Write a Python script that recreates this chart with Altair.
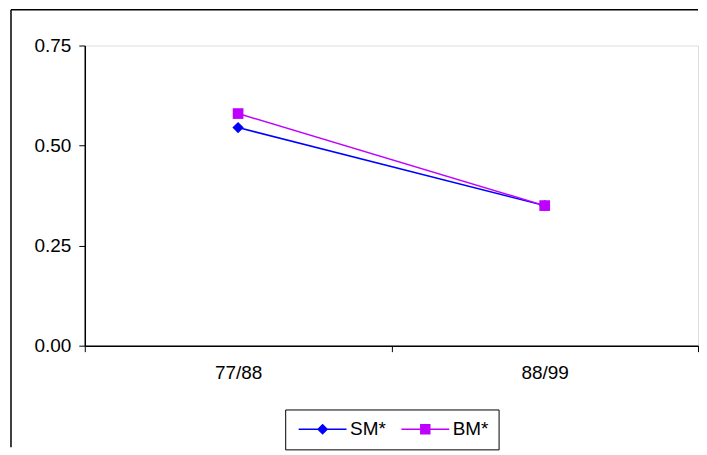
import altair as alt
import pandas as pd

periods = ["77/88", "88/99"]
series_names = ["SM*", "BM*"]
sm_values = [0.545, 0.35]
bm_values = [0.58, 0.35]

colors = ["#0000FF", "#BF00FF"]

rows = []
for p, v in zip(periods, sm_values):
    rows.append({"period": p, "series": "SM*", "value": v})
for p, v in zip(periods, bm_values):
    rows.append({"period": p, "series": "BM*", "value": v})
df = pd.DataFrame(rows)

W, H = 615, 301
FONT = "Liberation Sans"

x_enc = alt.X(
    "period:N",
    sort=periods,
    scale=alt.Scale(type="band", paddingInner=0, paddingOuter=0),
    axis=alt.Axis(
        title=None, labelAngle=0, tickBand="extent", tickSize=6,
        labelPadding=12, labelFontSize=19, labelFont=FONT, labelColor="black",
        tickColor="black", domainColor="black", domainWidth=1.5, grid=False,
    ),
)
y_enc = alt.Y(
    "value:Q",
    scale=alt.Scale(domain=[0, 0.75], nice=False, zero=True),
    axis=alt.Axis(
        title=None, values=[0, 0.25, 0.5, 0.75], format=".2f", tickSize=6,
        labelPadding=8, labelFontSize=19, labelFont=FONT, labelColor="black",
        tickColor="black", domainColor="black", domainWidth=1.5, grid=False,
    ),
)

sm_path = "M-1.2,0L8.4,0M3.6,-0.9L4.5,0L3.6,0.9L2.7,0Z"
bm_path = "M-1.2,0L8.4,0M2.7,-0.9L4.5,-0.9L4.5,0.9L2.7,0.9Z"

legend = alt.Legend(
    title=None, orient="none", legendX=201, legendY=365, direction="horizontal",
    padding=10, strokeColor="black", fillColor="white",
    labelFontSize=19, labelFont=FONT, labelColor="black", labelOffset=36,
    columnPadding=12, symbolSize=100, symbolStrokeWidth=1.5, symbolOpacity=1,
)

color_scale = alt.Scale(domain=series_names, range=colors)
color_enc = alt.Color("series:N", scale=color_scale, legend=legend)

base = alt.Chart(df).encode(x=x_enc, y=y_enc, color=color_enc)

lines = base.mark_line(strokeWidth=1.5)
sm_points = base.transform_filter(alt.datum.series == "SM*").mark_point(
    filled=True, opacity=1, size=130, shape="diamond"
)
bm_points = base.transform_filter(alt.datum.series == "BM*").mark_point(
    filled=True, opacity=1, size=115, shape="square"
)

legend_layer = alt.Chart(df).transform_filter("false").mark_point(
    filled=True, opacity=1, strokeWidth=1.5
).encode(
    x=alt.X("period:N", sort=periods),
    y=alt.Y("value:Q"),
    color=color_enc,
    stroke=alt.Stroke("series:N", scale=color_scale, legend=legend),
    shape=alt.Shape("series:N", scale=alt.Scale(domain=series_names, range=[sm_path, bm_path]), legend=legend),
)

frame_df = pd.DataFrame({"k": [0]})
top_line = alt.Chart(frame_df).mark_rule(
    color="black", strokeWidth=1.5, clip=False
).encode(x=alt.value(-74), x2=alt.value(W), y=alt.value(-36))
left_line = alt.Chart(frame_df).mark_rule(
    color="black", strokeWidth=1.5, clip=False
).encode(x=alt.value(-74), y=alt.value(-36), y2=alt.value(403))

chart = alt.layer(top_line, left_line, lines, sm_points, bm_points, legend_layer).properties(
    width=W, height=H,
    padding={"left": 2, "top": 0, "right": 0, "bottom": 0},
).configure_view(
    stroke="black", strokeWidth=1.5
).configure(background="white")

chart.save("out.html", embed_options={"renderer": "svg", "actions": False})
